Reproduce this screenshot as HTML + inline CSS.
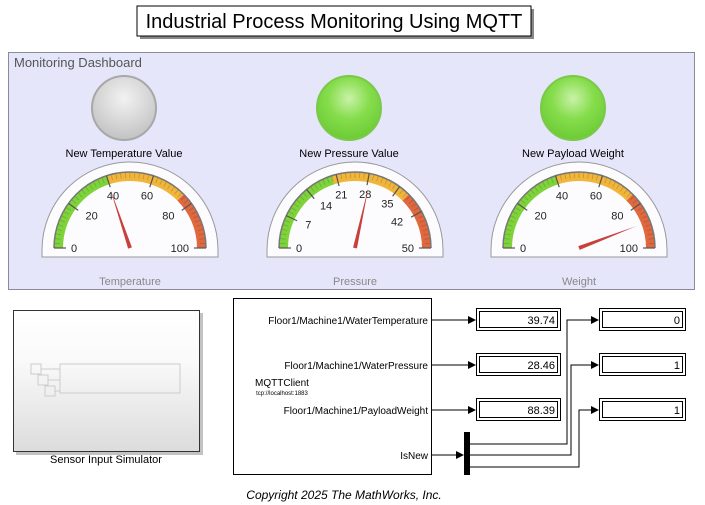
<!DOCTYPE html>
<html><head><meta charset="utf-8"><style>
html,body{margin:0;padding:0;background:#fff;}
svg{display:block;font-family:"Liberation Sans",Arial,sans-serif;}
</style></head><body>
<svg id="s" width="705" height="505" viewBox="0 0 705 505" xmlns="http://www.w3.org/2000/svg">
<defs>
<radialGradient id="gG" cx="0.5" cy="0.35" r="0.65"><stop offset="0" stop-color="#c9f2a8"/><stop offset="0.5" stop-color="#86dd4c"/><stop offset="1" stop-color="#6ccb35"/></radialGradient>
<radialGradient id="gY" cx="0.5" cy="0.35" r="0.65"><stop offset="0" stop-color="#f2f2f2"/><stop offset="0.6" stop-color="#d6d6d6"/><stop offset="1" stop-color="#c2c2c2"/></radialGradient>
<linearGradient id="sb" x1="0" y1="0" x2="0" y2="1"><stop offset="0" stop-color="#ffffff"/><stop offset="0.35" stop-color="#fafafa"/><stop offset="1" stop-color="#dcdcdc"/></linearGradient>
<marker id="ar" markerWidth="8" markerHeight="8" refX="7" refY="4" orient="auto" markerUnits="userSpaceOnUse"><path d="M0,0 L8,4 L0,8z" fill="#000"/></marker>
</defs>
<rect x="140" y="9" width="394" height="30" fill="#888"/>
<rect x="137" y="6" width="394" height="30" fill="#fff" stroke="#000" stroke-width="1"/>
<text x="334" y="28" font-size="20" text-anchor="middle">Industrial Process Monitoring Using MQTT</text>
<rect x="8.5" y="52.5" width="686" height="237" fill="#e6e6fb" stroke="#8a8a9a"/>
<text x="14" y="67" font-size="13" fill="#555">Monitoring Dashboard</text>
<circle cx="124" cy="108" r="32" fill="url(#gY)" stroke="#a8a8a8" stroke-width="2"/>
<circle cx="349" cy="108" r="32" fill="url(#gG)" stroke="#7bc94a" stroke-width="2"/>
<circle cx="573" cy="108" r="32" fill="url(#gG)" stroke="#7bc94a" stroke-width="2"/>
<text x="124" y="157" font-size="11" text-anchor="middle">New Temperature Value</text>
<text x="349" y="157" font-size="11" text-anchor="middle">New Pressure Value</text>
<text x="573" y="157" font-size="11" text-anchor="middle">New Payload Weight</text>
<text x="130" y="285" font-size="11" text-anchor="middle" fill="#888">Temperature</text>
<text x="355" y="285" font-size="11" text-anchor="middle" fill="#888">Pressure</text>
<text x="579" y="285" font-size="11" text-anchor="middle" fill="#888">Weight</text>
<g id="gauges"></g>
<rect x="16" y="313" width="187" height="142" fill="#999" opacity="0.6"/>
<rect x="13.5" y="310.5" width="186" height="141" fill="url(#sb)" stroke="#333"/>
<g fill="none" stroke="#ccc" stroke-width="1">
<rect x="31" y="364" width="10" height="10"/><rect x="38" y="375" width="10" height="10"/><rect x="45" y="386" width="10" height="10"/>
<rect x="60" y="364" width="120" height="29"/>
<path d="M41,369H60M48,380H60M55,391H60"/>
</g>
<text x="106" y="463" font-size="11" text-anchor="middle">Sensor Input Simulator</text>
<rect x="233.5" y="298.5" width="198" height="176" fill="#fff" stroke="#000"/>
<g font-size="10" text-anchor="end">
<text x="428" y="324">Floor1/Machine1/WaterTemperature</text>
<text x="428" y="369">Floor1/Machine1/WaterPressure</text>
<text x="428" y="414">Floor1/Machine1/PayloadWeight</text>
<text x="428" y="459">IsNew</text>
</g>
<text x="282" y="386" font-size="10" text-anchor="middle">MQTTClient</text>
<text x="282" y="395" font-size="6" text-anchor="middle">tcp://localhost:1883</text>
<g stroke="#000" stroke-width="1" fill="none">
<path d="M431,320H475" marker-end="url(#ar)"/>
<path d="M431,365H475" marker-end="url(#ar)"/>
<path d="M431,410H475" marker-end="url(#ar)"/>
<path d="M431,455H463" marker-end="url(#ar)"/>
<path d="M470,444H567V320H598" marker-end="url(#ar)"/>
<path d="M470,455H571V365H598" marker-end="url(#ar)"/>
<path d="M470,467H579V410H598" marker-end="url(#ar)"/>
</g>
<rect x="464" y="432" width="6" height="43" fill="#000"/>
<g id="disp"></g>
<text x="344" y="499" font-size="12" font-style="italic" text-anchor="middle">Copyright 2025 The MathWorks, Inc.</text>
</svg>
<script>
var NS="http://www.w3.org/2000/svg";
function el(p,t,a,txt){var e=document.createElementNS(NS,t);for(var k in a)e.setAttribute(k,a[k]);if(txt!=null)e.textContent=txt;p.appendChild(e);return e;}
var G=document.getElementById("gauges");
function pt(cx,cy,r,f){var a=Math.PI*(1-f);return [cx+r*Math.cos(a),cy-r*Math.sin(a)];}
function band(cx,cy,r1,r2,f1,f2,col){var a=pt(cx,cy,r2,f1),b=pt(cx,cy,r2,f2),c=pt(cx,cy,r1,f2),d=pt(cx,cy,r1,f1);
el(G,"path",{d:"M"+a+" A"+r2+","+r2+" 0 0 1 "+b+" L"+c+" A"+r1+","+r1+" 0 0 0 "+d+"Z",fill:col});}
function gauge(cx,max,ticks,val,labs){
 var cy=248;
 el(G,"path",{d:"M"+(cx-88)+",257 L"+(cx-88)+",250 A88,88 0 0 1 "+(cx+88)+",250 L"+(cx+88)+",257Z",fill:"#fcfcff",stroke:"#999"});
 band(cx,cy,67,76,0,0.4,"#7fd33a");band(cx,cy,67,76,0.4,0.75,"#f0b53a");band(cx,cy,67,76,0.75,1,"#e0683e");
 for(var i=0;i<=50;i++){var f=i/50,p=pt(cx,cy,70,f),q=pt(cx,cy,76,f);el(G,"line",{x1:p[0],y1:p[1],x2:q[0],y2:q[1],stroke:"rgba(0,0,0,0.18)","stroke-width":0.8});}
 el(G,"path",{d:"M"+pt(cx,cy,76,0)+" A76,76 0 0 1 "+pt(cx,cy,76,1),fill:"none",stroke:"#777","stroke-width":1.5});
 for(var j=0;j<labs.length;j++){var f=labs[j]/max;
  var p=pt(cx,cy,64,f),q=pt(cx,cy,76,f);el(G,"line",{x1:p[0],y1:p[1],x2:q[0],y2:q[1],stroke:"#555","stroke-width":1.2});
  var t=pt(cx,cy,55,f);var anc=f<0.3?"start":(f>0.7?"end":"middle");
  var tx=t[0]+(f==0?-4:0)+(f==1?4:0);
  el(G,"text",{x:tx,y:t[1]+4,"font-size":11,"text-anchor":anc,fill:"#222"},String(labs[j]));}
 var f=val/max,tip=pt(cx,cy,62,f),a=Math.PI*(1-f),nx=-Math.sin(a)*2,ny=-Math.cos(a)*2;
 el(G,"path",{d:"M"+tip+" L"+(cx+nx)+","+(cy+ny)+" L"+(cx-nx)+","+(cy-ny)+"Z",fill:"#c8403a"});
}
gauge(130,100,0,39.74,[0,20,40,60,80,100]);
gauge(355,50,0,28.46,[0,7,14,21,28,35,42,50]);
gauge(579,100,0,88.39,[0,20,40,60,80,100]);
var D=document.getElementById("disp");
function disp(x,y,w,v){el(D,"rect",{x:x+0.5,y:y+0.5,width:w,height:22,fill:"#fff",stroke:"#000"});
 el(D,"rect",{x:x+3.5,y:y+3.5,width:w-6,height:16,fill:"#fff",stroke:"#000"});
 el(D,"text",{x:x+w-5,y:y+16,"font-size":11,"text-anchor":"end"},v);}
disp(476,308,84,"39.74");disp(476,353,84,"28.46");disp(476,398,84,"88.39");
disp(599,308,86,"0");disp(599,353,86,"1");disp(599,398,86,"1");
</script>
</body></html>
